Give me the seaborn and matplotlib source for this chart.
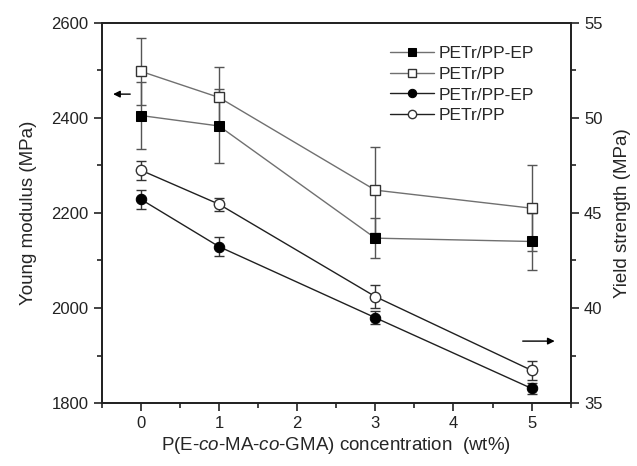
import seaborn as sns
from matplotlib import pyplot as plt
import pandas as pd

# 数据
conc = [0, 1, 3, 5]
modulus_ep = [2405, 2383, 2147, 2140]
modulus_ep_err = [70, 78, 42, 60]
modulus_pp = [2498, 2443, 2248, 2210]
modulus_pp_err = [70, 65, 90, 91]
yield_ep = [45.72, 43.23, 39.49, 35.77]
yield_ep_err = [0.5, 0.5, 0.35, 0.3]
yield_pp = [47.25, 45.46, 40.6, 36.72]
yield_pp_err = [0.5, 0.35, 0.6, 0.5]

sns.set_style('ticks')
plt.rcParams['font.family'] = ['Liberation Sans', 'DejaVu Sans']
plt.rcParams['mathtext.fontset'] = 'custom'
plt.rcParams['mathtext.it'] = 'Liberation Sans:italic'
plt.rcParams['mathtext.rm'] = 'Liberation Sans'
plt.rcParams['xtick.direction'] = 'out'
plt.rcParams['ytick.direction'] = 'out'

df = pd.DataFrame({'conc': conc,
                   'mod_ep': modulus_ep, 'mod_pp': modulus_pp,
                   'y_ep': yield_ep, 'y_pp': yield_pp})

fig = plt.figure(figsize=(6.37, 4.66), dpi=100)
ax = fig.add_axes([0.1597, 0.135, 0.7363, 0.816])
ax2 = ax.twinx()

sq_line = '#707070'
ci_line = '#202020'

# 模量 (左轴)
ax.errorbar(conc, modulus_ep, yerr=modulus_ep_err, fmt='none', ecolor='#555555',
            elinewidth=1, capsize=3.5, capthick=1, zorder=2)
ax.errorbar(conc, modulus_pp, yerr=modulus_pp_err, fmt='none', ecolor='#555555',
            elinewidth=1, capsize=3.5, capthick=1, zorder=2)
sns.lineplot(data=df, x='conc', y='mod_ep', ax=ax, color=sq_line, lw=1,
             marker='s', markersize=6.5, markerfacecolor='black',
             markeredgecolor='black', label='PETr/PP-EP', legend=False, zorder=3)
sns.lineplot(data=df, x='conc', y='mod_pp', ax=ax, color=sq_line, lw=1,
             marker='s', markersize=6.5, markerfacecolor='white',
             markeredgecolor='#333333', markeredgewidth=1,
             label='PETr/PP', legend=False, zorder=3)

# 屈服强度 (右轴)
ax2.errorbar(conc, yield_ep, yerr=yield_ep_err, fmt='none', ecolor='#333333',
             elinewidth=1, capsize=3.5, capthick=1, zorder=2)
ax2.errorbar(conc, yield_pp, yerr=yield_pp_err, fmt='none', ecolor='#333333',
             elinewidth=1, capsize=3.5, capthick=1, zorder=2)
sns.lineplot(data=df, x='conc', y='y_ep', ax=ax2, color=ci_line, lw=1,
             marker='o', markersize=7.5, markerfacecolor='black',
             markeredgecolor='black', label='PETr/PP-EP', legend=False, zorder=3)
sns.lineplot(data=df, x='conc', y='y_pp', ax=ax2, color=ci_line, lw=1,
             marker='o', markersize=7.5, markerfacecolor='white',
             markeredgecolor='#333333', markeredgewidth=1,
             label='PETr/PP', legend=False, zorder=3)

ax.set_xlim(-0.5, 5.5)
ax.set_ylim(1800, 2600)
ax2.set_ylim(35, 55)
ax.set_xticks([0, 1, 2, 3, 4, 5])
ax.set_xticks([-0.5, 0.5, 1.5, 2.5, 3.5, 4.5, 5.5], minor=True)
ax.set_yticks([1800, 2000, 2200, 2400, 2600])
ax.set_yticks([1900, 2100, 2300, 2500], minor=True)
ax2.set_yticks([35, 40, 45, 50, 55])
ax2.set_yticks([37.5, 42.5, 47.5, 52.5], minor=True)

for a in (ax, ax2):
    for s in a.spines.values():
        s.set_linewidth(1.3)
        s.set_color('#222222')
    a.tick_params(which='major', length=6, width=1.2, labelsize=12, colors='#222222')
    a.tick_params(which='minor', length=3.5, width=1.2, colors='#222222')

ax.set_xlabel('P(E-$\\it{co}$-MA-$\\it{co}$-GMA) concentration  (wt%)', fontsize=13.5, labelpad=3)
ax.set_ylabel('Young modulus (MPa)', fontsize=13.5, labelpad=10)
ax2.set_ylabel('Yield strength (MPa)', fontsize=13.5, labelpad=8)

# 箭头
ax.annotate('', xy=(-0.39, 2450), xytext=(-0.1, 2450),
            arrowprops=dict(arrowstyle='-|>', color='black', lw=1, mutation_scale=10))
ax2.annotate('', xy=(5.33, 38.26), xytext=(4.85, 38.26),
             arrowprops=dict(arrowstyle='-|>', color='black', lw=1, mutation_scale=10))

h1, l1 = ax.get_legend_handles_labels()
h2, l2 = ax2.get_legend_handles_labels()
ax2.legend(h1 + h2, l1 + l2, loc='upper left', bbox_to_anchor=(0.615, 0.94),
           frameon=False, fontsize=12.5, handlelength=2.5, handletextpad=0.3,
           labelspacing=0.33, borderaxespad=0, borderpad=0, markerscale=0.8)

fig.savefig('out.png', dpi=100)
